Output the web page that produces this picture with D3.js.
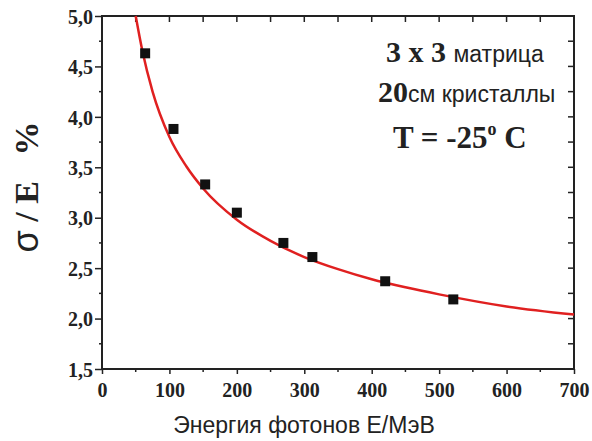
<!DOCTYPE html>
<html>
<head>
<meta charset="utf-8">
<script src="https://cdn.jsdelivr.net/npm/d3@7"></script>
<style>
  body { margin: 0; background: #fff; }
  .tick-label { font-family: "Liberation Serif", "Times New Roman", serif; font-weight: bold; font-size: 20px; fill: #222; }
</style>
</head>
<body>
<div id="chart"></div>
<script>
// measured points: photon energy (MeV) and resolution sigma/E (%)
const energy = [64, 106, 153, 200, 269, 312, 420, 521];
const resolution = [4.63, 3.88, 3.33, 3.05, 2.75, 2.61, 2.37, 2.19];

// fit curve
const fitEnergy = [50, 60, 75, 100, 125, 150, 200, 250, 300, 350, 400, 450, 500, 600, 700];
const fitResolution = [5.0, 4.65, 4.25, 3.80, 3.51, 3.29, 2.98, 2.77, 2.61, 2.49, 2.39, 2.31, 2.24, 2.12, 2.04];

const xTicks = [0, 100, 200, 300, 400, 500, 600, 700];
const yTicks = [1.5, 2.0, 2.5, 3.0, 3.5, 4.0, 4.5, 5.0];

const width = 592;
const height = 441;
const margin = { top: 16, right: 18, bottom: 72, left: 102 };

const svg = d3
  .select("#chart")
  .append("svg")
  .attr("width", width)
  .attr("height", height);

const x = d3
  .scaleLinear()
  .domain([0, 700])
  .range([margin.left, width - margin.right]);

const y = d3
  .scaleLinear()
  .domain([1.5, 5.0])
  .range([height - margin.bottom, margin.top]);

const fmt = (d) => d3.format(".1f")(d).replace(".", ",");
const axisColor = "#222";

// minor ticks (bottom and left, outward)
const xMinor = d3.range(50, 700, 100);
const yMinor = d3.range(1.75, 5.0, 0.5);

svg
  .append("g")
  .selectAll("line")
  .data(xMinor)
  .enter()
  .append("line")
  .attr("x1", (d) => x(d))
  .attr("x2", (d) => x(d))
  .attr("y1", y(1.5))
  .attr("y2", y(1.5) + 3)
  .attr("stroke", axisColor)
  .attr("stroke-width", 1.5);

svg
  .append("g")
  .selectAll("line")
  .data(yMinor)
  .enter()
  .append("line")
  .attr("x1", x(0))
  .attr("x2", x(0) - 3)
  .attr("y1", (d) => y(d))
  .attr("y2", (d) => y(d))
  .attr("stroke", axisColor)
  .attr("stroke-width", 1.5);

// top ticks (inward, every 50)
svg
  .append("g")
  .selectAll("line")
  .data(d3.range(50, 700, 50))
  .enter()
  .append("line")
  .attr("x1", (d) => x(d))
  .attr("x2", (d) => x(d))
  .attr("y1", y(5.0))
  .attr("y2", y(5.0) + 6)
  .attr("stroke", axisColor)
  .attr("stroke-width", 1.5);

// right ticks (inward, every 0.25)
svg
  .append("g")
  .selectAll("line")
  .data(d3.range(1.75, 5.0, 0.25))
  .enter()
  .append("line")
  .attr("x1", x(700))
  .attr("x2", x(700) - 6)
  .attr("y1", (d) => y(d))
  .attr("y2", (d) => y(d))
  .attr("stroke", axisColor)
  .attr("stroke-width", 1.5);

// bottom axis
const xAxis = svg
  .append("g")
  .attr("transform", `translate(0, ${y(1.5)})`)
  .call(d3.axisBottom(x).tickValues(xTicks).tickSize(5).tickPadding(9).tickSizeOuter(0));

// left axis
const yAxis = svg
  .append("g")
  .attr("transform", `translate(${x(0)}, 0)`)
  .call(d3.axisLeft(y).tickValues(yTicks).tickFormat(fmt).tickSize(7).tickPadding(2).tickSizeOuter(0));

[xAxis, yAxis].forEach((g) => {
  g.selectAll("path").remove();
  g.selectAll("line").attr("stroke", axisColor).attr("stroke-width", 1.5);
  g.selectAll("text").attr("class", "tick-label").attr("fill", axisColor);
});
yAxis.selectAll("text").attr("dy", "0.36em");

// frame
svg
  .append("rect")
  .attr("x", x(0))
  .attr("y", y(5.0))
  .attr("width", x(700) - x(0))
  .attr("height", y(1.5) - y(5.0))
  .attr("fill", "none")
  .attr("stroke", axisColor)
  .attr("stroke-width", 2);

// fit curve
const line = d3
  .line()
  .x((d, i) => x(fitEnergy[i]))
  .y((d) => y(d))
  .curve(d3.curveMonotoneX);

svg
  .append("path")
  .datum(fitResolution)
  .attr("fill", "none")
  .attr("stroke", "#e02020")
  .attr("stroke-width", 2.5)
  .attr("d", line);

// measured points
const size = 10;
svg
  .append("g")
  .selectAll("rect")
  .data(energy)
  .enter()
  .append("rect")
  .attr("x", (d) => x(d) - size / 2)
  .attr("y", (d, i) => y(resolution[i]) - size / 2)
  .attr("width", size)
  .attr("height", size)
  .attr("fill", "#111");

// annotation text
const serif = "'Liberation Serif', 'Times New Roman', serif";
const sans = "'Liberation Sans', Arial, sans-serif";

const t1 = svg.append("text").attr("x", 386).attr("y", 62).attr("fill", "#222").attr("xml:space", "preserve");
t1.append("tspan").attr("font-family", serif).attr("font-weight", "bold").attr("font-size", 30).text("3 x 3 ");
t1.append("tspan").attr("font-family", sans).attr("font-size", 23).text("матрица");

const t2 = svg.append("text").attr("x", 378).attr("y", 102).attr("fill", "#222");
t2.append("tspan").attr("font-family", serif).attr("font-weight", "bold").attr("font-size", 30).text("20");
t2.append("tspan").attr("font-family", sans).attr("font-size", 23).text("см кристаллы");

const t3 = svg
  .append("text")
  .attr("x", 393)
  .attr("y", 148)
  .attr("fill", "#222")
  .attr("font-family", serif)
  .attr("font-weight", "bold")
  .attr("font-size", 31)
  .attr("xml:space", "preserve");
t3.append("tspan").text("T = -25");
t3.append("tspan").attr("font-size", 18).attr("dy", -13).text("o");
t3.append("tspan").attr("dy", 13).text(" C");

// y axis title
const yTitle = svg
  .append("text")
  .attr("transform", `translate(38, 187) rotate(-90)`)
  .attr("text-anchor", "middle")
  .attr("fill", "#222")
  .attr("font-weight", "bold")
  .attr("font-size", 34)
  .attr("xml:space", "preserve");
yTitle.append("tspan").attr("font-family", sans).attr("font-weight", "normal").attr("font-size", 36).text("σ");
yTitle.append("tspan").attr("font-family", serif).text(" / E   %");

// x axis title
svg
  .append("text")
  .attr("x", 304)
  .attr("y", 433)
  .attr("text-anchor", "middle")
  .attr("fill", "#222")
  .attr("font-family", sans)
  .attr("font-size", 23)
  .text("Энергия фотонов Е/МэВ");
</script>
</body>
</html>
